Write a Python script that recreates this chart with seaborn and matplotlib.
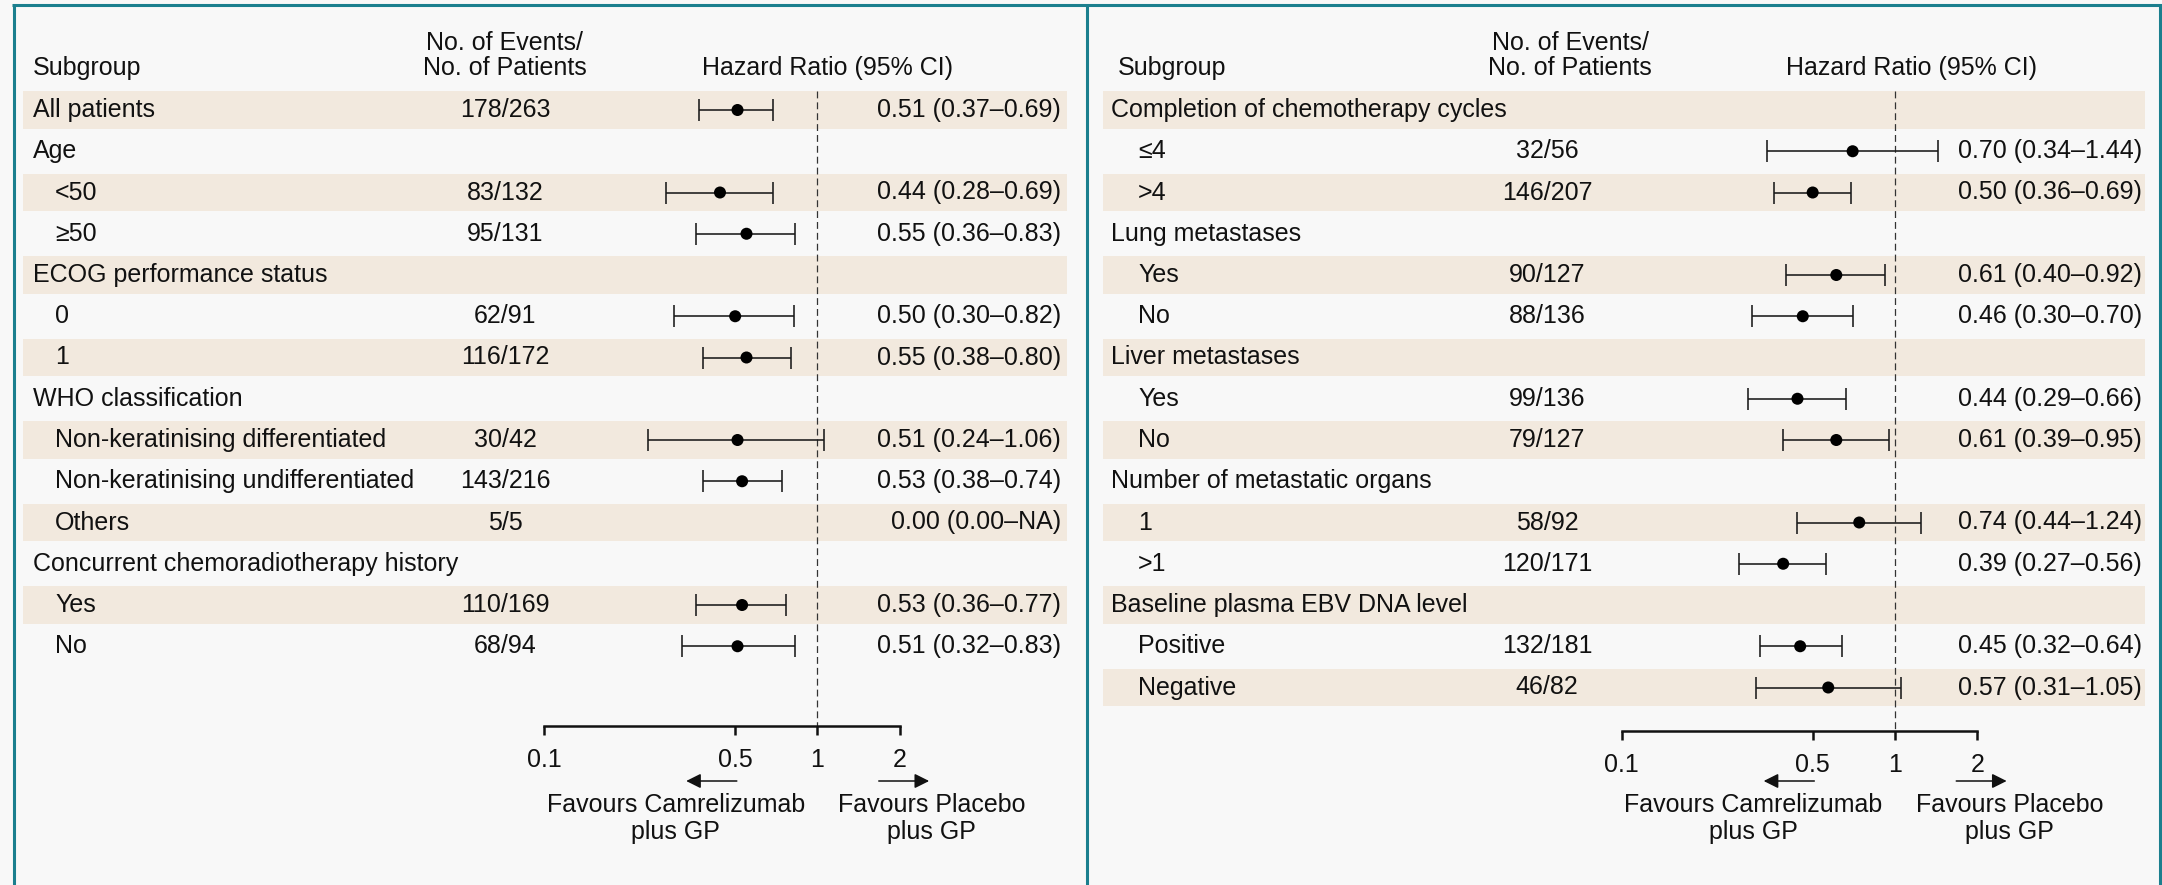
import numpy as np
import pandas as pd
import matplotlib
matplotlib.use("Agg")
import matplotlib.pyplot as plt
import matplotlib.transforms as mtransforms
from matplotlib.lines import Line2D
from matplotlib.ticker import NullLocator, FixedLocator, FixedFormatter
import seaborn as sns

nan = np.nan

# ---------------- data: left panel ----------------
left_labels = ["All patients", "Age", "<50", "\u226550", "ECOG performance status", "0", "1",
               "WHO classification", "Non-keratinising differentiated",
               "Non-keratinising undifferentiated", "Others",
               "Concurrent chemoradiotherapy history", "Yes", "No"]
left_indent = [0, 0, 1, 1, 0, 1, 1, 0, 1, 1, 1, 0, 1, 1]
left_events = ["178/263", "", "83/132", "95/131", "", "62/91", "116/172", "",
               "30/42", "143/216", "5/5", "", "110/169", "68/94"]
left_hr = [0.51, nan, 0.44, 0.55, nan, 0.50, 0.55, nan, 0.51, 0.53, 0.00, nan, 0.53, 0.51]
left_lo = [0.37, nan, 0.28, 0.36, nan, 0.30, 0.38, nan, 0.24, 0.38, 0.00, nan, 0.36, 0.32]
left_hi = [0.69, nan, 0.69, 0.83, nan, 0.82, 0.80, nan, 1.06, 0.74, nan, nan, 0.77, 0.83]

# ---------------- data: right panel ----------------
right_labels = ["Completion of chemotherapy cycles", "\u22644", ">4", "Lung metastases", "Yes", "No",
                "Liver metastases", "Yes", "No", "Number of metastatic organs", "1", ">1",
                "Baseline plasma EBV DNA level", "Positive", "Negative"]
right_indent = [0, 1, 1, 0, 1, 1, 0, 1, 1, 0, 1, 1, 0, 1, 1]
right_events = ["", "32/56", "146/207", "", "90/127", "88/136", "", "99/136", "79/127",
                "", "58/92", "120/171", "", "132/181", "46/82"]
right_hr = [nan, 0.70, 0.50, nan, 0.61, 0.46, nan, 0.44, 0.61, nan, 0.74, 0.39, nan, 0.45, 0.57]
right_lo = [nan, 0.34, 0.36, nan, 0.40, 0.30, nan, 0.29, 0.39, nan, 0.44, 0.27, nan, 0.32, 0.31]
right_hi = [nan, 1.44, 0.69, nan, 0.92, 0.70, nan, 0.66, 0.95, nan, 1.24, 0.56, nan, 0.64, 1.05]

tick_values = [0.1, 0.5, 1, 2]
tick_labels = ["0.1", "0.5", "1", "2"]
favour_left = "Favours Camrelizumab\nplus GP"
favour_right = "Favours Placebo\nplus GP"

# ---------------- styling / layout ----------------
W, H = 2162, 885
BG = "#f8f8f8"
BAND = "#f2e9de"
TEAL = "#1b7f8e"
INK = "#111111"
FS = 18
ROW0 = 110.0      # pixel centre of the first row
STEP = 41.25      # pixel distance between rows

sns.set_style("white")
plt.rcParams["font.family"] = ["Liberation Sans", "DejaVu Sans"]
plt.rcParams["text.color"] = INK

fig = plt.figure(figsize=(W / 100, H / 100), dpi=100, facecolor=BG)


def fmt_hr(h, l, u):
    def f(v):
        return "NA" if np.isnan(v) else f"{v:.2f}"
    return f"{f(h)} ({f(l)}\u2013{f(u)})"


def draw_panel(labels, indent, events, hr, lo, hi, lay):
    l, r, axis_px = lay["ax_left"], lay["ax_right"], lay["axis_px"]
    ax = fig.add_axes([l / W, (H - axis_px) / H, (r - l) / W, axis_px / H])
    ax.set_facecolor("none")

    n = len(labels)
    df = pd.DataFrame({"row": np.arange(n), "hr": hr, "lo": lo, "hi": hi})
    pts = df[(df["hr"] > 0) & df["hi"].notna()]

    # shaded alternate rows
    for i in range(0, n, 2):
        ax.axhspan(i - 0.45, i + 0.45, color=BAND, lw=0, zorder=0)

    # confidence intervals and point estimates
    ax.errorbar(pts["hr"], pts["row"],
                xerr=[pts["hr"] - pts["lo"], pts["hi"] - pts["hr"]],
                fmt="none", ecolor="#1a1a1a", elinewidth=1.15,
                capsize=7.9, capthick=1.15, zorder=2)
    sns.scatterplot(data=pts, x="hr", y="row", ax=ax, color="black", s=75,
                    edgecolor="none", zorder=3, legend=False)

    ax.set_xscale("log")
    one, dec = lay["one_px"], lay["decade_px"]
    ax.set_xlim(10 ** ((l - one) / dec), 10 ** ((r - one) / dec))
    ybot = (axis_px - ROW0) / STEP
    ytop = (0 - ROW0) / STEP
    ax.set_ylim(ybot, ytop)

    # reference line at HR = 1
    ax.vlines(1, -0.45, ybot, colors="#333333", linewidth=0.9,
              linestyles=(0, (5.5, 3.2)), zorder=1)

    # x axis
    for s in ["left", "right", "top"]:
        ax.spines[s].set_visible(False)
    ax.spines["bottom"].set_bounds(0.1, 2)
    ax.spines["bottom"].set_linewidth(1.8)
    ax.spines["bottom"].set_color(INK)
    ax.xaxis.set_major_locator(FixedLocator(tick_values))
    ax.xaxis.set_major_formatter(FixedFormatter(tick_labels))
    ax.xaxis.set_minor_locator(NullLocator())
    ax.tick_params(axis="x", bottom=True, direction="out", length=6.8, width=1.8,
                   color=INK, labelsize=FS, pad=9.3, labelcolor=INK)
    ax.set_yticks([])
    ax.set_xlabel("")
    ax.set_ylabel("")

    # table columns
    tr = mtransforms.blended_transform_factory(fig.transFigure, ax.transData)
    for i in range(n):
        x = lay["hdr_x"] if indent[i] == 0 else lay["sub_x"]
        ax.text(x / W, i, labels[i], transform=tr, ha="left", va="center", fontsize=FS)
        if events[i]:
            ax.text(lay["ev_x"] / W, i, events[i], transform=tr, ha="center",
                    va="center", fontsize=FS)
        if not np.isnan(hr[i]):
            ax.text(lay["hrtxt_x"] / W, i, fmt_hr(hr[i], lo[i], hi[i]), transform=tr,
                    ha="right", va="center", fontsize=FS)

    # column headers
    ax.text(lay["sg_x"] / W, -1.02, "Subgroup", transform=tr, ha="left", va="center", fontsize=FS)
    ax.text(lay["evh_x"] / W, -1.62, "No. of Events/", transform=tr, ha="center", va="center", fontsize=FS)
    ax.text(lay["evh_x"] / W, -1.02, "No. of Patients", transform=tr, ha="center", va="center", fontsize=FS)
    ax.text(lay["hrh_x"] / W, -1.02, "Hazard Ratio (95% CI)", transform=tr, ha="center",
            va="center", fontsize=FS)

    # direction arrows and captions
    tr2 = mtransforms.blended_transform_factory(ax.transData, fig.transFigure)
    ya = 1 - 781 / H
    ax.annotate("", xy=(0.331, ya), xytext=(0.507, ya), xycoords=tr2, textcoords=tr2,
                arrowprops=dict(arrowstyle="-|>", mutation_scale=22, lw=1.1,
                                color=INK, shrinkA=0, shrinkB=0))
    ax.annotate("", xy=(2.56, ya), xytext=(1.675, ya), xycoords=tr2, textcoords=tr2,
                arrowprops=dict(arrowstyle="-|>", mutation_scale=22, lw=1.1,
                                color=INK, shrinkA=0, shrinkB=0))
    yt = 1 - 818.5 / H
    ax.text(0.303, yt, favour_left, transform=tr2, ha="center", va="center",
            multialignment="center", fontsize=FS, linespacing=1.15)
    ax.text(2.62, yt, favour_right, transform=tr2, ha="center", va="center",
            multialignment="center", fontsize=FS, linespacing=1.15)
    return ax


left_layout = dict(ax_left=23, ax_right=1067, axis_px=726, one_px=817.5, decade_px=273.5,
                   hdr_x=33, sub_x=55, sg_x=33, ev_x=505, evh_x=505, hrh_x=828, hrtxt_x=1061)
right_layout = dict(ax_left=1103, ax_right=2145, axis_px=731, one_px=1895, decade_px=273.5,
                    hdr_x=1111, sub_x=1138, sg_x=1118, ev_x=1547, evh_x=1570, hrh_x=1911,
                    hrtxt_x=2142)

draw_panel(left_labels, left_indent, left_events, left_hr, left_lo, left_hi, left_layout)
draw_panel(right_labels, right_indent, right_events, right_hr, right_lo, right_hi, right_layout)

# panel frames
lw_frame = 2.2
top_y = 1 - 5 / H
for x_px in (13.5, 1086.5, 2160):
    fig.add_artist(Line2D([x_px / W, x_px / W], [0, top_y], transform=fig.transFigure,
                          color=TEAL, linewidth=lw_frame, solid_capstyle="butt"))
fig.add_artist(Line2D([12 / W, 2161.5 / W], [top_y, top_y], transform=fig.transFigure,
                      color=TEAL, linewidth=lw_frame, solid_capstyle="butt"))

fig.savefig("out.png", dpi=100, facecolor=BG)
